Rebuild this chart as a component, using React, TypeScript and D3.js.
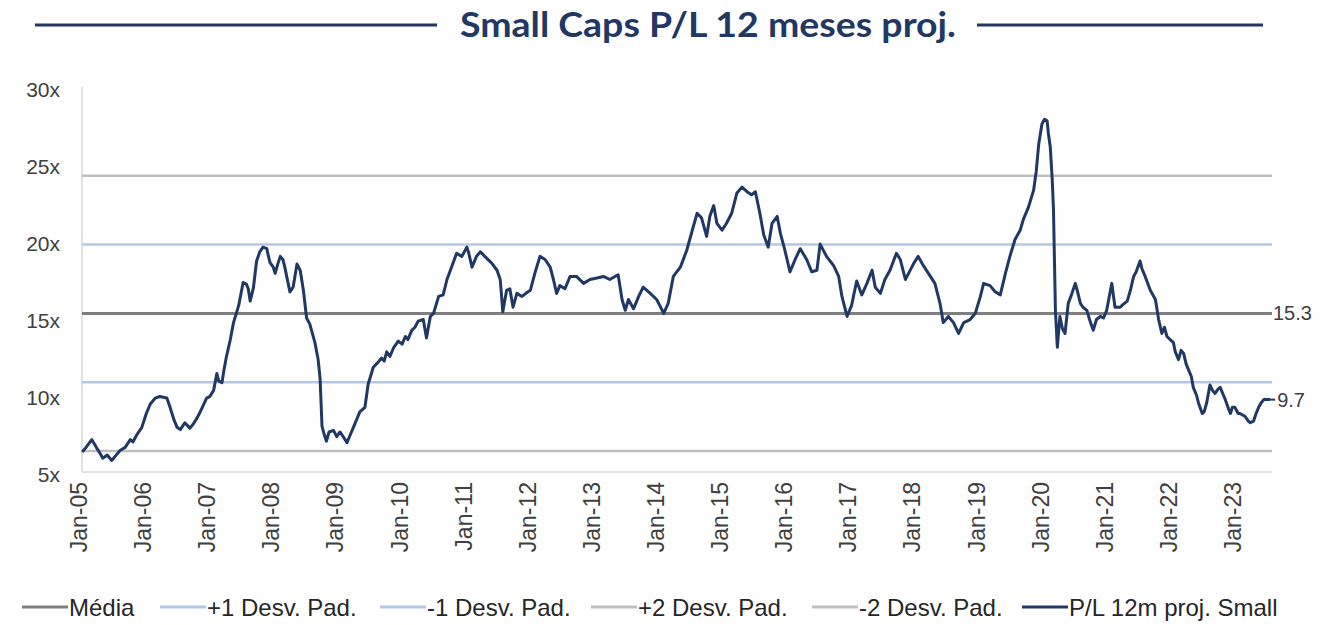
import React from "react";
import * as d3 from "d3";

// ---- data ----
const dateYears: number[] = [
  2005.05, 2005.11, 2005.20, 2005.27, 2005.33, 2005.37, 2005.44, 2005.51, 2005.56, 2005.64,
  2005.72, 2005.80, 2005.84, 2005.90, 2005.98, 2006.05, 2006.11, 2006.19, 2006.26, 2006.37,
  2006.42, 2006.48, 2006.53, 2006.58, 2006.65, 2006.73, 2006.78, 2006.84, 2006.89, 2006.94,
  2006.99, 2007.04, 2007.10, 2007.15, 2007.18, 2007.23, 2007.26, 2007.30, 2007.36, 2007.41,
  2007.49, 2007.56, 2007.61, 2007.64, 2007.67, 2007.72, 2007.77, 2007.82, 2007.87, 2007.93,
  2007.95, 2007.98, 2008.03, 2008.06, 2008.10, 2008.14, 2008.18, 2008.21, 2008.26, 2008.29,
  2008.34, 2008.40, 2008.45, 2008.50, 2008.55, 2008.60, 2008.68, 2008.73, 2008.76, 2008.79,
  2008.82, 2008.86, 2008.90, 2008.97, 2009.02, 2009.07, 2009.12, 2009.18, 2009.23, 2009.28,
  2009.34, 2009.38, 2009.46, 2009.51, 2009.59, 2009.66, 2009.72, 2009.76, 2009.80, 2009.85,
  2009.91, 2009.98, 2010.04, 2010.09, 2010.13, 2010.19, 2010.24, 2010.29, 2010.37, 2010.42,
  2010.48, 2010.53, 2010.61, 2010.68, 2010.74, 2010.81, 2010.89, 2010.97, 2011.05, 2011.08,
  2011.13, 2011.20, 2011.26, 2011.33, 2011.44, 2011.52, 2011.57, 2011.59, 2011.61, 2011.67,
  2011.72, 2011.77, 2011.83, 2011.91, 2011.97, 2012.04, 2012.11, 2012.19, 2012.27, 2012.35,
  2012.40, 2012.45, 2012.50, 2012.58, 2012.66, 2012.76, 2012.87, 2012.97, 2013.08, 2013.18,
  2013.28, 2013.36, 2013.41, 2013.47, 2013.52, 2013.57, 2013.65, 2013.73, 2013.80, 2013.91,
  2014.01, 2014.06, 2014.12, 2014.19, 2014.27, 2014.38, 2014.48, 2014.56, 2014.64, 2014.71,
  2014.79, 2014.84, 2014.90, 2014.95, 2015.03, 2015.10, 2015.18, 2015.26, 2015.34, 2015.42,
  2015.49, 2015.55, 2015.62, 2015.68, 2015.75, 2015.81, 2015.89, 2015.94, 2016.01, 2016.09,
  2016.17, 2016.25, 2016.35, 2016.43, 2016.51, 2016.56, 2016.66, 2016.77, 2016.85, 2016.90,
  2016.98, 2017.05, 2017.13, 2017.21, 2017.29, 2017.37, 2017.42, 2017.50, 2017.57, 2017.65,
  2017.75, 2017.81, 2017.89, 2017.94, 2018.02, 2018.09, 2018.17, 2018.28, 2018.35, 2018.43,
  2018.48, 2018.56, 2018.64, 2018.72, 2018.80, 2018.90, 2018.98, 2019.06, 2019.11, 2019.21,
  2019.29, 2019.37, 2019.45, 2019.52, 2019.60, 2019.68, 2019.73, 2019.81, 2019.89, 2019.93,
  2019.97, 2020.02, 2020.06, 2020.10, 2020.12, 2020.15, 2020.18, 2020.20, 2020.23, 2020.26,
  2020.30, 2020.34, 2020.38, 2020.43, 2020.48, 2020.54, 2020.57, 2020.62, 2020.66, 2020.72,
  2020.77, 2020.82, 2020.87, 2020.93, 2020.98, 2021.03, 2021.07, 2021.11, 2021.13, 2021.16,
  2021.24, 2021.29, 2021.35, 2021.40, 2021.45, 2021.49, 2021.55, 2021.58, 2021.63, 2021.71,
  2021.79, 2021.84, 2021.89, 2021.93, 2021.97, 2022.02, 2022.07, 2022.10, 2022.15, 2022.19,
  2022.23, 2022.27, 2022.31, 2022.35, 2022.38, 2022.43, 2022.46, 2022.52, 2022.55, 2022.59,
  2022.64, 2022.68, 2022.72, 2022.77, 2022.80, 2022.85, 2022.88, 2022.93, 2022.96, 2022.99,
  2023.03, 2023.08, 2023.11, 2023.19, 2023.24, 2023.27, 2023.32, 2023.36, 2023.40, 2023.44,
  2023.48, 2023.52, 2023.58,
];

const peValues: number[] = [
  6.3, 6.6, 7.1, 6.6, 6.2, 5.9, 6.1, 5.75, 6.0, 6.4,
  6.6, 7.1, 6.95, 7.4, 7.9, 8.8, 9.4, 9.8, 9.9, 9.8,
  9.2, 8.4, 7.9, 7.75, 8.2, 7.85, 8.1, 8.5, 8.9, 9.35,
  9.8, 9.9, 10.3, 11.4, 10.9, 10.8, 11.6, 12.5, 13.6, 14.7,
  15.8, 17.3, 17.2, 16.9, 16.1, 16.95, 18.7, 19.3, 19.6, 19.5,
  19.1, 18.6, 18.3, 17.9, 18.5, 19.0, 18.8, 18.3, 17.3, 16.7,
  17.0, 18.5, 18.1, 16.8, 15.0, 14.6, 13.4, 12.3, 11.1, 8.0,
  7.5, 7.0, 7.6, 7.7, 7.3, 7.6, 7.3, 6.9, 7.4, 7.9,
  8.5, 8.9, 9.2, 10.7, 11.8, 12.1, 12.4, 12.2, 12.8, 12.5,
  13.1, 13.5, 13.3, 13.8, 13.6, 14.2, 14.4, 14.8, 14.9, 13.7,
  15.1, 15.3, 16.4, 16.5, 17.5, 18.3, 19.2, 19.0, 19.6, 19.2,
  18.3, 19.0, 19.3, 19.0, 18.55, 18.1, 17.5, 16.5, 15.4, 16.8,
  16.9, 15.7, 16.6, 16.4, 16.6, 16.8, 17.9, 19.0, 18.8, 18.3,
  17.5, 16.6, 17.1, 16.9, 17.7, 17.7, 17.25, 17.5, 17.6, 17.7,
  17.5, 17.7, 17.8, 16.2, 15.5, 16.2, 15.6, 16.4, 17.0, 16.6,
  16.2, 15.8, 15.3, 15.95, 17.7, 18.3, 19.4, 20.6, 21.8, 21.5,
  20.3, 21.6, 22.3, 21.15, 20.7, 21.15, 21.8, 23.1, 23.5, 23.2,
  23.0, 23.2, 21.8, 20.4, 19.6, 21.15, 21.6, 20.5, 19.4, 18.0,
  18.8, 19.5, 18.8, 18.0, 18.1, 19.8, 19.0, 18.4, 17.7, 16.4,
  15.1, 15.8, 17.4, 16.5, 17.25, 18.1, 17.0, 16.6, 17.5, 18.1,
  19.2, 18.8, 17.5, 17.9, 18.55, 19.0, 18.4, 17.7, 17.25, 15.95,
  14.7, 15.1, 14.7, 14.0, 14.7, 14.9, 15.3, 16.4, 17.25, 17.1,
  16.7, 16.5, 17.9, 19.0, 20.1, 20.7, 21.4, 22.2, 23.3, 24.5,
  26.3, 27.6, 27.9, 27.8, 27.0, 26.1, 24.0, 22.0, 15.5, 13.1,
  15.1, 14.3, 14.0, 15.95, 16.5, 17.25, 16.8, 15.95, 15.7, 15.5,
  14.8, 14.2, 14.9, 15.1, 15.0, 15.5, 16.4, 17.25, 16.6, 15.7,
  15.7, 15.9, 16.1, 16.8, 17.7, 18.0, 18.7, 18.2, 17.7, 16.8,
  16.2, 14.9, 14.0, 14.4, 13.8, 13.6, 13.4, 12.8, 12.3, 12.9,
  12.7, 12.0, 11.6, 11.2, 10.5, 10.0, 9.5, 8.8, 8.9, 9.5,
  10.65, 10.3, 10.1, 10.4, 10.5, 10.0, 9.7, 9.1, 8.8, 9.2,
  9.2, 8.8, 8.8, 8.6, 8.3, 8.2, 8.3, 8.8, 9.2, 9.5,
  9.7, 9.7, 9.7,
];

const xTickYears: number[] = [
  2005, 2006, 2007, 2008, 2009, 2010, 2011, 2012, 2013, 2014,
  2015, 2016, 2017, 2018, 2019, 2020, 2021, 2022, 2023,
];
const xTickLabels: string[] = [
  "Jan-05", "Jan-06", "Jan-07", "Jan-08", "Jan-09", "Jan-10", "Jan-11", "Jan-12", "Jan-13", "Jan-14",
  "Jan-15", "Jan-16", "Jan-17", "Jan-18", "Jan-19", "Jan-20", "Jan-21", "Jan-22", "Jan-23",
];
const yTicks: number[] = [5, 10, 15, 20, 25, 30];
const yTickLabels: string[] = ["5x", "10x", "15x", "20x", "25x", "30x"];

const bandNames: string[] = ["Média", "+1 Desv. Pad.", "-1 Desv. Pad.", "+2 Desv. Pad.", "-2 Desv. Pad."];
const bandValues: number[] = [15.3, 19.77, 10.83, 24.24, 6.36];
const bandColors: string[] = ["#7f7f7f", "#b4c7e7", "#b4c7e7", "#bfbfbf", "#bfbfbf"];
const seriesName = "P/L 12m proj. Small";
const seriesColor = "#1f3864";
const title = "Small Caps P/L 12 meses proj.";
const meanLabel = "15.3";
const lastLabel = "9.7";

// ---- layout ----
const W = 1331;
const H = 625;
const plotLeft = 82;
const plotRight = 1272;
const plotTop = 87;
const plotBottom = 472;

export default function App() {
  const x = d3.scaleLinear().domain([2005, 2023]).range([79, 1233]);
  const y = d3.scaleLinear().domain([5, 30]).range([plotBottom, plotTop]);

  const pts = dateYears.map((d, i) => [d, peValues[i]] as [number, number]);
  const line = d3
    .line<[number, number]>()
    .x((d) => x(d[0]))
    .y((d) => y(d[1]));

  const lastVal = peValues[peValues.length - 1];
  const font = "'Liberation Sans', Arial, sans-serif";
  const textColor = "#404040";

  const legendItems = [
    { name: bandNames[0], color: bandColors[0], x0: 22 },
    { name: bandNames[1], color: bandColors[1], x0: 160 },
    { name: bandNames[2], color: bandColors[2], x0: 380 },
    { name: bandNames[3], color: bandColors[3], x0: 591 },
    { name: bandNames[4], color: bandColors[4], x0: 812 },
    { name: seriesName, color: seriesColor, x0: 1022 },
  ];

  return (
    <svg
      width={W}
      height={H}
      style={{ position: "absolute", left: 0, top: 0, background: "#fff" }}
    >
      {/* title */}
      <line x1={35} x2={437} y1={25} y2={25} stroke={seriesColor} strokeWidth={3} />
      <line x1={977} x2={1263} y1={25} y2={25} stroke={seriesColor} strokeWidth={3} />
      <text
        x={708}
        y={37}
        textAnchor="middle"
        fontFamily="Lato, 'Open Sans', sans-serif"
        fontWeight={700}
        fontSize={34}
        fill={seriesColor}
        textLength={496}
        lengthAdjust="spacingAndGlyphs"
      >
        {title}
      </text>

      {/* axes frame */}
      <line x1={plotLeft} x2={plotLeft} y1={plotTop} y2={plotBottom} stroke="#d9d9d9" strokeWidth={1.5} />
      <line x1={plotLeft} x2={plotRight} y1={plotBottom} y2={plotBottom} stroke="#d9d9d9" strokeWidth={1.5} />

      {/* y labels */}
      {yTicks.map((t, i) => (
        <text
          key={t}
          x={60}
          y={y(t) + 2}
          textAnchor="end"
          dominantBaseline="central"
          fontFamily={font}
          fontSize={21}
          fill={textColor}
        >
          {yTickLabels[i]}
        </text>
      ))}

      {/* x labels */}
      {xTickYears.map((t, i) => (
        <text
          key={t}
          transform={`translate(${x(t)},${482}) rotate(-90)`}
          textAnchor="end"
          dominantBaseline="central"
          fontFamily={font}
          fontSize={23}
          fill={textColor}
        >
          {xTickLabels[i]}
        </text>
      ))}

      {/* mean / std bands */}
      {bandValues.map((v, i) => (
        <line
          key={bandNames[i]}
          x1={plotLeft}
          x2={plotRight}
          y1={y(v)}
          y2={y(v)}
          stroke={bandColors[i]}
          strokeWidth={i === 0 ? 3 : 2.5}
        />
      ))}

      {/* series */}
      <path d={line(pts) || ""} fill="none" stroke={seriesColor} strokeWidth={3} strokeLinejoin="round" />

      {/* end labels */}
      <text
        x={plotRight + 1}
        y={y(bandValues[0])}
        dominantBaseline="central"
        fontFamily={font}
        fontSize={20}
        fill={textColor}
      >
        {meanLabel}
      </text>
      <line
        x1={x(dateYears[dateYears.length - 1])}
        x2={x(dateYears[dateYears.length - 1]) + 5}
        y1={y(lastVal)}
        y2={y(lastVal)}
        stroke={seriesColor}
        strokeWidth={2}
      />
      <text
        x={x(dateYears[dateYears.length - 1]) + 7}
        y={y(lastVal)}
        dominantBaseline="central"
        fontFamily={font}
        fontSize={20}
        fill={textColor}
      >
        {lastLabel}
      </text>

      {/* legend */}
      {legendItems.map((it) => (
        <g key={it.name}>
          <line x1={it.x0} x2={it.x0 + 46} y1={607} y2={607} stroke={it.color} strokeWidth={3} />
          <text
            x={it.x0 + 47}
            y={607}
            dominantBaseline="central"
            fontFamily={font}
            fontSize={24}
            fill="#262626"
          >
            {it.name}
          </text>
        </g>
      ))}
    </svg>
  );
}
